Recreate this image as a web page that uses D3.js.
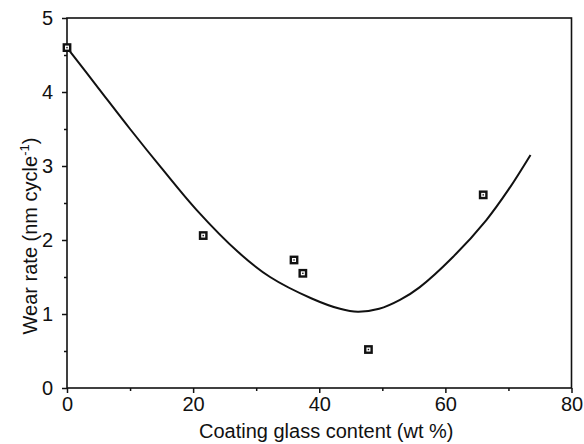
<!DOCTYPE html>
<html>
<head>
<meta charset="utf-8">
<script src="https://cdn.jsdelivr.net/npm/d3@7"></script>
<style>
  body { margin: 0; background: #fff; }
  text { font-family: "Liberation Sans", Arial, sans-serif; fill: #111; }
</style>
</head>
<body>
<div id="chart"></div>
<script>
// measured points
const pointX = [0, 21.6, 36.0, 37.4, 47.8, 66.0];
const pointY = [4.6, 2.06, 1.73, 1.55, 0.52, 2.61];

// fitted curve
const curveX = [0, 5, 10, 15, 20.5, 27.1, 32.2, 38.8, 43.3, 46.1, 49.5, 52.8, 55.9, 61.2, 66.5, 70, 73.5];
const curveY = [4.6, 4.05, 3.5, 2.97, 2.41, 1.84, 1.5, 1.21, 1.07, 1.03, 1.07, 1.19, 1.36, 1.77, 2.27, 2.68, 3.15];

const xTicks = [0, 20, 40, 60, 80];
const yTicks = [0, 1, 2, 3, 4, 5];

const width = 584, height = 444;
const margin = { top: 18, right: 12.5, bottom: 56, left: 67 };
const w = width - margin.left - margin.right;
const h = height - margin.top - margin.bottom;

const svg = d3.select("#chart").append("svg")
  .attr("width", width)
  .attr("height", height);

const chart = svg.append("g")
  .attr("transform", `translate(${margin.left},${margin.top})`);

const x = d3.scaleLinear().domain([0, 80]).range([0, w]);
const y = d3.scaleLinear().domain([0, 5]).range([h, 0]);

// frame
chart.append("rect")
  .attr("width", w).attr("height", h)
  .attr("fill", "none").attr("stroke", "#111").attr("stroke-width", 1.6);

// x axis
chart.append("g")
  .attr("transform", `translate(0,${h})`)
  .call(d3.axisBottom(x).tickValues(xTicks).tickSize(5).tickPadding(4).tickFormat(d3.format("d")));
chart.append("g")
  .attr("transform", `translate(0,${h})`)
  .call(d3.axisBottom(x).tickValues(d3.range(10, 80, 20)).tickSize(3).tickFormat(""));

// y axis
chart.append("g")
  .call(d3.axisLeft(y).tickValues(yTicks).tickSize(5).tickPadding(9).tickFormat(d3.format("d")));
chart.append("g")
  .call(d3.axisLeft(y).tickValues(d3.range(0.5, 5, 1)).tickSize(3).tickFormat(""));

chart.selectAll(".domain").remove();
chart.selectAll(".tick line").attr("stroke", "#111").attr("stroke-width", 1.5);
chart.selectAll(".tick text")
  .attr("font-size", null)
  .style("font-size", "20px")
  .style("font-family", "'Liberation Sans', Arial, sans-serif")
  .attr("fill", "#111");

// curve
const line = d3.line()
  .x(i => x(curveX[i]))
  .y(i => y(curveY[i]))
  .curve(d3.curveCatmullRom);

chart.append("path")
  .datum(d3.range(curveX.length))
  .attr("d", line)
  .attr("fill", "none")
  .attr("stroke", "#111")
  .attr("stroke-width", 2);

// square markers
const pts = chart.selectAll(".pt")
  .data(d3.range(pointX.length))
  .enter().append("g")
  .attr("class", "pt")
  .attr("transform", i => `translate(${x(pointX[i])},${y(pointY[i])})`);

pts.append("rect")
  .attr("x", -3.2).attr("y", -3.2)
  .attr("width", 6.4).attr("height", 6.4)
  .attr("fill", "#fff")
  .attr("stroke", "#111")
  .attr("stroke-width", 2.4);
pts.append("rect")
  .attr("x", -0.7).attr("y", -0.7)
  .attr("width", 1.4).attr("height", 1.4)
  .attr("fill", "#111");

// axis titles
svg.append("text")
  .attr("x", margin.left + w / 2 + 7)
  .attr("y", 438)
  .attr("text-anchor", "middle")
  .style("font-size", "20px")
  .text("Coating glass content (wt %)");

const yt = svg.append("text")
  .attr("transform", "translate(37,236) rotate(-90)")
  .attr("text-anchor", "middle")
  .style("font-size", "20px");
yt.append("tspan").text("Wear rate (nm cycle");
yt.append("tspan").attr("dy", -8).style("font-size", "13px").text("-1");
yt.append("tspan").attr("dy", 8).text(")");
</script>
</body>
</html>
